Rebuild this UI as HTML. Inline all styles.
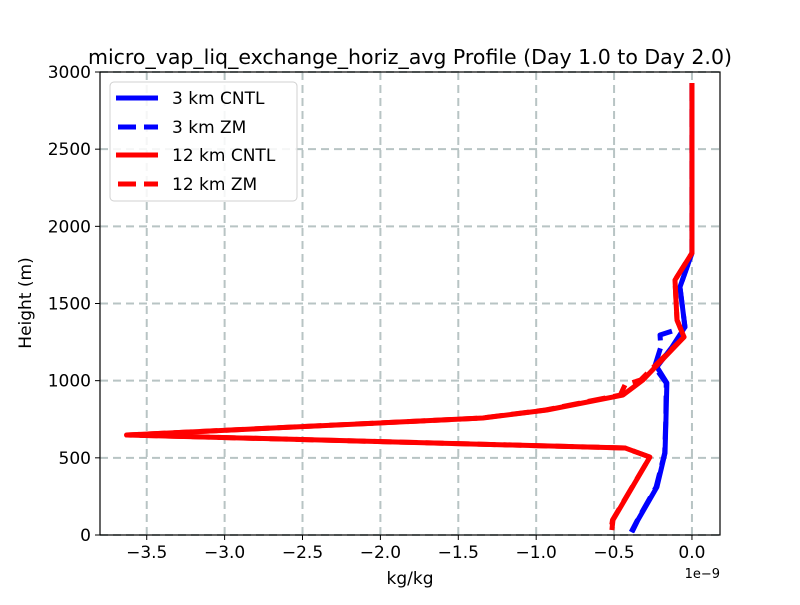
<!DOCTYPE html>
<html><head><meta charset="utf-8"><style>
body{margin:0;background:#fff;font-family:"Liberation Sans","DejaVu Sans",sans-serif}
svg text{font-family:"DejaVu Sans","Liberation Sans",sans-serif}
</style></head><body>
<svg id="c" width="800" height="600" xmlns="http://www.w3.org/2000/svg"></svg>
<script>
const xTicks=[-3.5,-3.0,-2.5,-2.0,-1.5,-1.0,-0.5,0.0];
const xTickLabels=["\u22123.5","\u22123.0","\u22122.5","\u22122.0","\u22121.5","\u22121.0","\u22120.5","0.0"];
const yTicks=[0,500,1000,1500,2000,2500,3000];
const yTickLabels=["0","500","1000","1500","2000","2500","3000"];
const blueCntlH=[2929,1944,1827,1607,1348,1218,1089,985,745,531,311,97,19];
const blueCntlV=[0,0,0,-0.077,-0.045,-0.128,-0.225,-0.161,-0.167,-0.173,-0.225,-0.347,-0.385];
const blueZmH=[2929,1944,1827,1607,1348,1296,1218,1089,985,745,531,311,97,19];
const blueZmV=[0,0,0,-0.077,-0.045,-0.205,-0.2,-0.24,-0.165,-0.168,-0.175,-0.23,-0.35,-0.39];
const redCntlH=[2929,1944,1827,1652,1393,1283,1004,907,810,758,648,564,505,97,32];
const redCntlV=[0,0,0,-0.109,-0.096,-0.051,-0.315,-0.443,-0.931,-1.342,-3.629,-0.43,-0.27,-0.507,-0.514];
const redZmH=[2929,1944,1827,1652,1393,1283,1004,972,907,810,758,648,564,505,97,32];
const redZmV=[0,0,0,-0.109,-0.096,-0.051,-0.33,-0.43,-0.46,-0.94,-1.35,-3.629,-0.43,-0.27,-0.51,-0.52];

const L=100,R=720,T=72,B=535,xmin=-3.8,xmax=0.18,ymin=0,ymax=3000;
const sx=v=>L+(v-xmin)/(xmax-xmin)*(R-L);
const sy=h=>B-(h-ymin)/(ymax-ymin)*(B-T);
const svg=document.getElementById('c');
const NS="http://www.w3.org/2000/svg";
function mk(tag,attrs,parent){const e=document.createElementNS(NS,tag);for(const k in attrs)e.setAttribute(k,attrs[k]);(parent||svg).appendChild(e);return e;}

const grid=mk('g',{});


xTicks.forEach(v=>{mk('line',{x1:sx(v),x2:sx(v),y1:T,y2:B,stroke:'#b8c4c4','stroke-width':2,'stroke-dasharray':'8,5'},grid);});
yTicks.forEach(h=>{mk('line',{x1:L,x2:R,y1:sy(h),y2:sy(h),stroke:'#b8c4c4','stroke-width':2,'stroke-dasharray':'8,5'},grid);});

function series(H,V,color,dash,name){
  const p=mk('polyline',{points:H.map((h,i)=>sx(V[i])+','+sy(h)).join(' '),fill:'none',stroke:color,'stroke-width':5,'stroke-linejoin':'round','stroke-dasharray':dash||'none'});
  
  
}
series(blueCntlH,blueCntlV,'#0000ff',null,'line-3km-cntl');
series(blueZmH,blueZmV,'#0000ff','18,8','line-3km-zm');
series(redCntlH,redCntlV,'#ff0000',null,'line-12km-cntl');
series(redZmH,redZmV,'#ff0000','18,8','line-12km-zm');

const frame=mk('rect',{x:L,y:T,width:R-L,height:B-T,fill:'none',stroke:'#000','stroke-width':1.2});



const xa=mk('g',{});


xTicks.forEach((v,i)=>{mk('line',{x1:sx(v),x2:sx(v),y1:B,y2:B+5,stroke:'#000','stroke-width':1},xa);
  const t=mk('text',{x:sx(v),y:B+23,'text-anchor':'middle','font-size':17},xa);t.textContent=xTickLabels[i];});
const ya=mk('g',{});


yTicks.forEach((h,i)=>{mk('line',{x1:L-5,x2:L,y1:sy(h),y2:sy(h),stroke:'#000','stroke-width':1},ya);
  const t=mk('text',{x:L-9,y:sy(h)+6,'text-anchor':'end','font-size':17},ya);t.textContent=yTickLabels[i];});
</script>
<svg width="800" height="600" style="position:absolute;left:0;top:0" xmlns="http://www.w3.org/2000/svg">
<text x="410" y="64" text-anchor="middle" font-size="20.5" font-family="DejaVu Sans,Liberation Sans,sans-serif">micro_vap_liq_exchange_horiz_avg Profile (Day 1.0 to Day 2.0)</text>
<text x="410" y="584" text-anchor="middle" font-size="17" font-family="DejaVu Sans,Liberation Sans,sans-serif">kg/kg</text>
<text x="720" y="578" text-anchor="end" font-size="13" font-family="DejaVu Sans,Liberation Sans,sans-serif">1e−9</text>
<text transform="translate(31,303) rotate(-90)" text-anchor="middle" font-size="17" font-family="DejaVu Sans,Liberation Sans,sans-serif">Height (m)</text>
<g font-family="DejaVu Sans,Liberation Sans,sans-serif" font-size="17">
<rect x="110" y="82" width="187" height="119" rx="4" fill="#fff" fill-opacity="0.85" stroke="#d0d0d0"/>
<g><line x1="116" x2="158" y1="98" y2="98" stroke="#0000ff" stroke-width="5"/><text x="172" y="104">3 km CNTL</text></g>
<g><line x1="118" x2="158" y1="127" y2="127" stroke="#0000ff" stroke-width="5" stroke-dasharray="18,8"/><text x="172" y="133">3 km ZM</text></g>
<g><line x1="116" x2="158" y1="155" y2="155" stroke="#ff0000" stroke-width="5"/><text x="172" y="161">12 km CNTL</text></g>
<g><line x1="118" x2="158" y1="184" y2="184" stroke="#ff0000" stroke-width="5" stroke-dasharray="18,8"/><text x="172" y="190">12 km ZM</text></g>
</g>
</svg>
</body></html>
